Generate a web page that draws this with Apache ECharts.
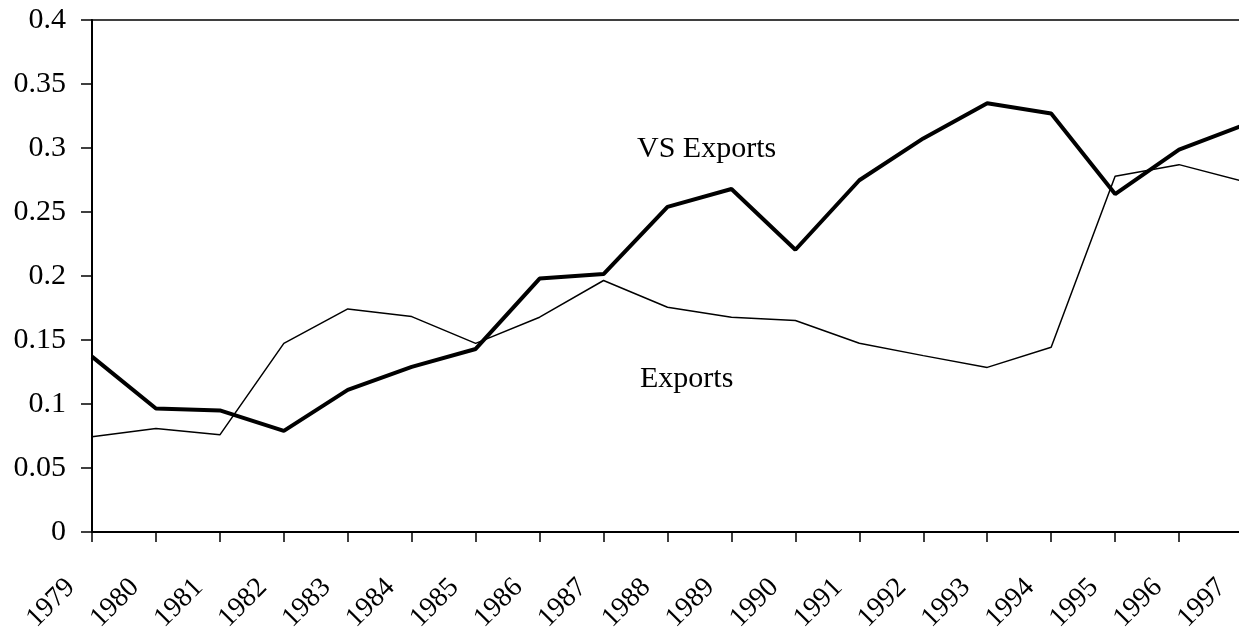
<!DOCTYPE html>
<html>
<head>
<meta charset="utf-8">
<script src="https://cdn.jsdelivr.net/npm/echarts@6/dist/echarts.min.js"></script>
<style>
html,body{margin:0;padding:0;background:#fff;}
#chart{width:1239px;height:633px;}
</style>
</head>
<body>
<div id="chart"></div>
<script>
const years = ['1979','1980','1981','1982','1983','1984','1985','1986','1987','1988','1989','1990','1991','1992','1993','1994','1995','1996','1997'];
const vsExports = [0.137,0.0965,0.095,0.079,0.111,0.129,0.143,0.198,0.2015,0.254,0.268,0.2205,0.2748,0.3075,0.335,0.327,0.264,0.2988,0.3176];
const exportsShare = [0.0744,0.0809,0.0759,0.1474,0.1743,0.1683,0.1474,0.1678,0.1965,0.1756,0.1678,0.1652,0.1474,0.1378,0.1286,0.1443,0.2779,0.287,0.274];
const seriesNames = ['VS Exports','Exports'];
const yTicks = {min:0, max:0.4, interval:0.05};

const font = 'Liberation Serif, Times New Roman, serif';
const chart = echarts.init(document.getElementById('chart'), null, {renderer:'canvas'});
chart.setOption({
  animation:false,
  backgroundColor:'#fff',
  grid:{left:92, top:20, right:-4, bottom:101, outerBoundsMode:'none', containLabel:false, show:true, borderColor:'#000', borderWidth:1.5, backgroundColor:'transparent'},
  xAxis:{
    type:'category', data:years, boundaryGap:false,
    axisLine:{lineStyle:{color:'#000', width:2}},
    axisTick:{show:true, length:10, inside:false, alignWithLabel:true, lineStyle:{color:'#000', width:1.5}},
    axisLabel:{interval:0, rotate:45, margin:30, fontFamily:font, fontSize:28, color:'#000', padding:[0,30,0,0], hideOverlap:false},
    splitLine:{show:false}
  },
  yAxis:{
    type:'value', min:yTicks.min, max:yTicks.max, interval:yTicks.interval,
    axisLine:{show:true, lineStyle:{color:'#000', width:2}},
    axisTick:{show:true, length:11, lineStyle:{color:'#000', width:1.5}},
    axisLabel:{margin:26, fontFamily:font, fontSize:30, color:'#000', formatter:v=>String(+v.toFixed(2))},
    splitLine:{show:false}
  },
  series:[
    {name:seriesNames[0], type:'line', data:vsExports, symbol:'none', lineStyle:{color:'#000', width:4}, z:3},
    {name:seriesNames[1], type:'line', data:exportsShare, symbol:'none', lineStyle:{color:'#000', width:1.5}, z:2}
  ],
  graphic:[
    {type:'text', left:637, top:134, style:{text:seriesNames[0], font:'30px '+font, fill:'#000'}},
    {type:'text', left:640, top:364, style:{text:seriesNames[1], font:'30px '+font, fill:'#000'}}
  ]
});
</script>
</body>
</html>
